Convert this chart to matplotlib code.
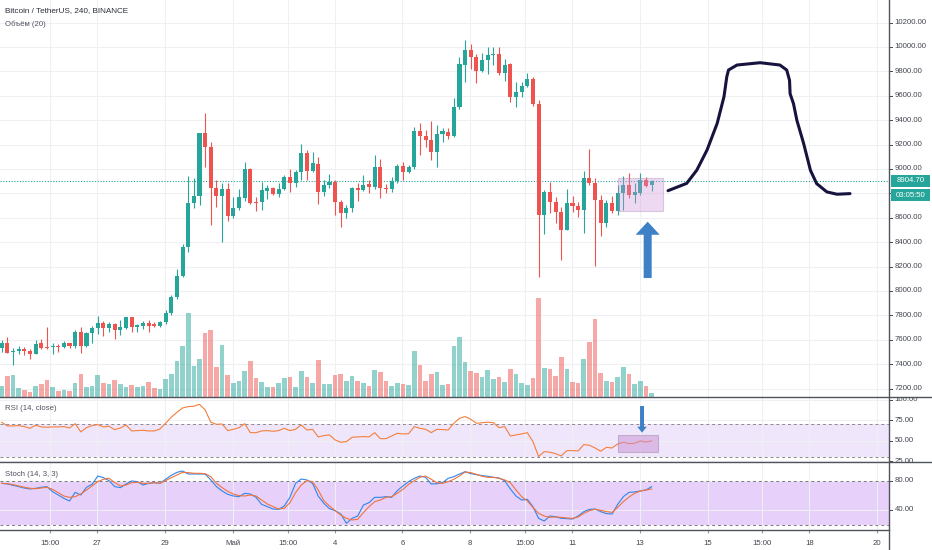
import numpy as np
import matplotlib.pyplot as plt
from matplotlib.patches import Rectangle, FancyArrow
from matplotlib.lines import Line2D

plt.rcParams['font.family'] = ['Liberation Sans', 'DejaVu Sans']

# BTC/USDT 4h candles (24 Apr - 13 May 2020)
opens = [7530, 7577, 7498, 7508, 7525, 7511, 7484, 7571, 7544, 7538,
         7552, 7544, 7571, 7552, 7661, 7550, 7653, 7694, 7735, 7700,
         7727, 7681, 7700, 7784, 7708, 7713, 7741, 7730, 7716, 7743,
         7817, 7948, 8123, 8363, 8719, 8779, 9292, 9178, 8842, 8779,
         8833, 8615, 8678, 8765, 8997, 8732, 8730, 8822, 8842, 8795,
         8833, 8932, 8883, 8973, 9134, 8986, 9040, 8814, 8869, 8896,
         8727, 8642, 8678, 8842, 8828, 8874, 8850, 9014, 8847, 8839,
         8904, 9025, 8978, 9014, 9311, 9270, 9238, 9139, 9287, 9300,
         9270, 9511, 9852, 9975, 9921, 9806, 9893, 9932, 9940, 9790,
         9858, 9587, 9634, 9680, 9738, 9533, 8623, 8809, 8732, 8650,
         8500, 8724, 8697, 8664, 8923, 8882, 8746, 8560, 8724, 8658,
         8806, 8869, 8787, 8806, 8910, 8869]
highs = [7599, 7620, 7530, 7549, 7544, 7525, 7599, 7607, 7708, 7571,
         7566, 7593, 7577, 7681, 7708, 7667, 7713, 7795, 7754, 7749,
         7735, 7763, 7790, 7790, 7730, 7754, 7763, 7749, 7754, 7845,
         7967, 8178, 8385, 8943, 8924, 9298, 9462, 9224, 8910, 8883,
         8883, 8768, 8833, 9060, 9005, 8773, 8896, 8869, 8855, 8883,
         8951, 8997, 8992, 9202, 9156, 9142, 9096, 8910, 8959, 8910,
         8746, 8705, 8850, 8883, 8951, 8910, 9115, 9079, 8877, 8937,
         9041, 9060, 9033, 9347, 9374, 9320, 9393, 9361, 9333, 9333,
         9579, 9921, 10057, 10025, 9943, 9954, 9997, 9997, 9997, 9899,
         9866, 9716, 9716, 9790, 9757, 9566, 8828, 8896, 8773, 8686,
         8833, 8779, 8732, 8986, 9164, 8923, 8787, 8746, 8779, 8869,
         8942, 8970, 8882, 8970, 8932, 8910]
lows = [7503, 7489, 7394, 7484, 7476, 7440, 7484, 7522, 7522, 7484,
        7503, 7530, 7530, 7530, 7489, 7544, 7577, 7648, 7631, 7667,
        7604, 7640, 7686, 7661, 7667, 7686, 7667, 7708, 7708, 7727,
        7804, 7935, 8118, 8323, 8678, 8705, 9019, 8541, 8691, 8404,
        8577, 8596, 8664, 8740, 8713, 8659, 8664, 8751, 8787, 8768,
        8828, 8814, 8855, 8910, 8910, 8978, 8713, 8779, 8842, 8623,
        8527, 8596, 8650, 8741, 8822, 8806, 8833, 8760, 8801, 8814,
        8888, 8910, 8965, 8997, 9115, 9183, 9074, 9014, 9224, 9243,
        9260, 9489, 9716, 9817, 9702, 9798, 9776, 9852, 9770, 9724,
        9552, 9511, 9593, 9669, 9516, 8118, 8467, 8642, 8555, 8254,
        8500, 8650, 8609, 8478, 8869, 8205, 8451, 8527, 8636, 8623,
        8664, 8759, 8724, 8787, 8850, 8822]
closes = [7577, 7495, 7511, 7528, 7508, 7484, 7566, 7536, 7536, 7552,
          7544, 7574, 7552, 7661, 7550, 7653, 7694, 7735, 7700, 7727,
          7681, 7708, 7784, 7708, 7719, 7735, 7716, 7716, 7743, 7817,
          7954, 8126, 8358, 8719, 8779, 9292, 9178, 8842, 8779, 8833,
          8615, 8678, 8768, 8997, 8719, 8724, 8828, 8842, 8795, 8833,
          8932, 8883, 8978, 9134, 8986, 9046, 8814, 8869, 8896, 8727,
          8642, 8678, 8842, 8828, 8869, 8850, 9014, 8842, 8839, 8904,
          9025, 8978, 9014, 9311, 9270, 9238, 9139, 9287, 9311, 9273,
          9511, 9858, 9975, 9921, 9806, 9893, 9934, 9942, 9790, 9852,
          9587, 9634, 9680, 9738, 9533, 8623, 8809, 8732, 8650, 8500,
          8724, 8697, 8664, 8923, 8882, 8746, 8560, 8724, 8658, 8806,
          8869, 8787, 8814, 8910, 8861, 8904.7]
volumes = [11.3, 21.3, 22.3, 9, 7.3, 5, 10.7, 13.3, 17.3, 10,
           6.3, 7, 6.3, 14.3, 23.3, 10.3, 11, 22.3, 14.3, 13.3,
           17.3, 12.7, 10.3, 12.3, 10.3, 11.3, 15, 9, 8.3, 18.3,
           23.3, 35.7, 51.3, 84, 31, 38.3, 63.7, 67.3, 29.7, 52,
           22.3, 13.7, 15.7, 26.3, 36.3, 19.3, 14.7, 9.7, 9.7, 13.7,
           19, 20.3, 10.3, 26.3, 19.7, 14.3, 36.7, 13, 13, 22.3,
           23.3, 16.3, 21.3, 16.3, 14, 10.7, 27, 25, 16.3, 10.7,
           14, 13, 12.3, 46, 32.3, 15.7, 23, 25, 12, 13.3,
           51.3, 60, 35.3, 26.3, 24.3, 19.7, 27, 18.3, 20, 15,
           27.7, 23, 14, 12.3, 19, 99.3, 29, 27.7, 21.3, 39.7,
           28.3, 15.3, 14, 38.3, 55.3, 78, 23.7, 15.7, 15, 20.3,
           30, 23, 13.3, 15.7, 10.7, 4]
rsi = [72.5, 68, 68, 68.4, 67.2, 65.1, 68.8, 66.8, 66.4, 66.8,
       66.8, 67.2, 65.5, 70.8, 60.7, 66, 68.4, 69.6, 66.8, 67.6,
       63.5, 65.5, 69.2, 61.9, 62.3, 62.7, 61.9, 61.9, 64.3, 71.2,
       78.6, 84.6, 89.9, 91.6, 92, 94.4, 87.5, 72.5, 70, 70.4,
       62.3, 63.9, 65.9, 70.8, 59.8, 59.8, 61.9, 62.3, 61.5, 62.3,
       65.1, 62.3, 63.9, 69.2, 63.1, 63.9, 54.6, 56.2, 57, 50.9,
       48.1, 48.9, 54.2, 54.6, 55, 54.6, 59.8, 52.5, 52.5, 55.8,
       59, 58.2, 58.6, 67.2, 65.1, 63.9, 59.8, 63.9, 63.5, 63.1,
       71.2, 77.3, 79.4, 76.1, 71.2, 72, 72.5, 72, 65.9, 67.2,
       55.8, 57, 58.2, 59.8, 48.9, 30.6, 36.7, 35.9, 34.2, 31.4,
       37.9, 37.9, 37.5, 45.2, 44.4, 41.1, 37.1, 41.9, 41.1, 46,
       48.1, 46.4, 46.8, 49.7, 48.5, 49.7]
stoch_k = [76.4, 75.5, 73.7, 71.9, 70.0, 68.7, 69.6, 71.0, 71.9, 65.0,
           60.5, 55.9, 52.3, 64.1, 60.5, 71.0, 75.0, 86.4, 84.1, 80.0,
           71.9, 70.5, 75.5, 79.6, 78.7, 74.1, 76.4, 77.3, 76.4, 81.9,
           87.3, 91.4, 93.2, 89.1, 89.1, 89.1, 89.1, 81.0, 71.9, 65.9,
           61.4, 59.1, 58.2, 62.8, 61.8, 57.3, 47.7, 44.6, 41.4, 40.9,
           45.5, 57.3, 76.4, 82.3, 81.0, 76.4, 59.1, 49.1, 41.8, 39.1,
           34.5, 21.8, 28.6, 31.8, 46.8, 50.0, 57.3, 57.3, 58.2, 57.3,
           66.4, 72.8, 78.7, 83.2, 86.4, 84.6, 75.5, 75.9, 77.3, 83.2,
           85.5, 89.1, 92.3, 89.6, 88.2, 86.9, 86.0, 84.6, 83.7, 80.0,
           68.7, 59.1, 53.6, 54.6, 44.6, 28.6, 25.0, 31.8, 30.9, 28.6,
           28.2, 27.7, 31.8, 37.7, 40.9, 41.4, 37.7, 35.0, 34.5, 47.7,
           58.2, 64.1, 64.6, 65.9, 67.3, 71.9]
stoch_d = [76.4, 76.0, 74.6, 72.8, 71.0, 69.6, 69.1, 70.0, 71.0, 68.2,
           63.7, 59.1, 57.3, 58.2, 61.8, 67.3, 72.8, 78.7, 81.9, 83.2,
           77.3, 72.8, 74.1, 77.3, 77.8, 76.4, 76.4, 77.3, 76.4, 80.0,
           84.1, 87.8, 91.4, 91.0, 90.1, 90.1, 89.6, 85.5, 76.4, 70.5,
           65.5, 61.8, 59.6, 59.1, 60.5, 59.1, 53.6, 48.2, 44.6, 41.4,
           42.3, 50.0, 63.7, 74.1, 80.0, 78.7, 67.3, 52.7, 45.5, 39.1,
           33.2, 28.6, 26.4, 27.3, 36.4, 44.6, 51.4, 53.6, 57.3, 58.2,
           62.8, 68.2, 75.0, 80.0, 84.6, 86.4, 81.9, 77.3, 76.4, 78.7,
           81.9, 86.4, 91.9, 91.0, 88.7, 86.0, 84.6, 84.6, 83.2, 81.0,
           77.3, 67.3, 58.2, 52.3, 43.6, 35.4, 31.8, 30.0, 30.5, 30.0,
           29.1, 28.6, 30.5, 35.4, 39.1, 40.9, 39.6, 37.7, 36.8, 43.6,
           51.4, 57.7, 62.8, 65.9, 67.3, 68.7]

tick_pos = [8.6, 16.9, 28.9, 40.9, 50.6, 58.9, 70.9, 82.9, 92.6, 100.9,
            112.9, 124.9, 134.6, 142.9, 154.9]
tick_labels = ["15:00", "27", "29", "Май", "15:00", "4", "6", "8", "15:00", "11",
               "13", "15", "15:00", "18", "20"]
price_ticks = list(range(7200, 10201, 200))
rsi_ticks = [25, 50, 75, 100]
stoch_ticks = [40, 80]
last_price = 8904.70
countdown = "03:05:50"

# hand drawn forecast (candle index, price)
curve_x = [117.9, 121.2, 123.0, 124.8, 126.6, 127.8, 128.3, 128.6, 130.1, 134.2, 137.7,
           138.9, 139.4, 139.5, 140.1, 140.7, 141.9, 143.1, 144.2, 146.0, 147.8, 150.1]
curve_y = [8822, 8882, 8991, 9155, 9374, 9592, 9756, 9811, 9852, 9871, 9852,
           9811, 9727, 9617, 9535, 9399, 9208, 8989, 8880, 8812, 8793, 8798]
# highlighted boxes and arrows
box_x = (109.1, 117.0)
box_price = (8656, 8929)
arrow_price = (114.3, 8106, 8568)
box_rsi = (109.1, 116.2, 36.3, 57.0)
arrow_rsi = (113.3, 92.3, 59.8)

UP, DOWN = '#26a69a', '#ef5350'
GRID = '#eef0f4'
TXT = '#434651'
SEP = '#50535e'
FS = 5.6

W, H = 932.0, 550.0
AX = 889.0


def rect(top, bottom, left=0.0, right=AX):
    return [left / W, 1 - bottom / H, (right - left) / W, (bottom - top) / H]


fig = plt.figure(figsize=(9.32, 5.5), dpi=100)
ax = fig.add_axes(rect(0, 397))
ax_rsi = fig.add_axes(rect(397, 462))
ax_st = fig.add_axes(rect(462, 530))
sc_p = fig.add_axes(rect(0, 397, AX, W))
sc_r = fig.add_axes(rect(397, 462, AX, W))
sc_s = fig.add_axes(rect(462, 530, AX, W))

o = np.array(opens, float)
c = np.array(closes, float)
idx = np.arange(len(c))
col = np.where(c >= o, UP, DOWN)

xlim = (-0.3, 157.0)
ylims = [(7131, 10385), (24.0, 103.3), (12.7, 105.5)]
for a, yl, yt in [(ax, ylims[0], price_ticks), (ax_rsi, ylims[1], rsi_ticks),
                  (ax_st, ylims[2], stoch_ticks)]:
    a.set_xlim(*xlim)
    a.set_ylim(*yl)
    a.set_xticks(tick_pos)
    a.set_yticks(yt)
    a.grid(True, color=GRID, lw=0.8, zorder=0)
    a.set_axisbelow(True)
    a.tick_params(length=0, labelleft=False, labelbottom=False)
    for s in a.spines.values():
        s.set_visible(False)

# volume overlay at the bottom of the price pane
ax.bar(idx, np.array(volumes) / 397.0, width=0.82, color=col, alpha=0.5,
       linewidth=0, transform=ax.get_xaxis_transform(), zorder=1)

# candles
ax.vlines(idx, lows, highs, colors=col, lw=0.8, zorder=3)
ax.bar(idx, np.maximum(np.abs(c - o), 4), bottom=np.minimum(o, c), width=0.72,
       color=col, linewidth=0, zorder=4)
ax.axhline(last_price, color=UP, lw=0.8, ls=(0, (1, 1.5)), zorder=2)

ax.add_patch(Rectangle((box_x[0], box_price[0]), box_x[1] - box_x[0],
                       box_price[1] - box_price[0], facecolor='#ce93d8', alpha=0.35,
                       edgecolor='#9d7fae', lw=0.8, zorder=5))
ax.add_patch(FancyArrow(arrow_price[0], arrow_price[1], 0, arrow_price[2] - arrow_price[1],
                        width=1.42, head_width=4.25, head_length=107,
                        length_includes_head=True, color='#3d80c6', lw=0, zorder=6))
ax.plot(curve_x, curve_y, color='#17133f', lw=2.2, solid_capstyle='round',
        solid_joinstyle='round', zorder=6)

# RSI pane
ax_rsi.axhspan(30, 70, color='#f0e6fb', zorder=0, lw=0)
for lvl in (30, 70):
    ax_rsi.axhline(lvl, color='#8a8a8a', lw=0.7, ls=(0, (3, 3)), zorder=1)
ax_rsi.plot(idx, rsi, color='#f57f3b', lw=0.8, zorder=3)
ax_rsi.add_patch(Rectangle((box_rsi[0], box_rsi[2]), box_rsi[1] - box_rsi[0],
                           box_rsi[3] - box_rsi[2], facecolor='#c78fd6', alpha=0.5,
                           edgecolor='#9d8aa6', lw=0.8, zorder=4))
ax_rsi.add_patch(FancyArrow(arrow_rsi[0], arrow_rsi[1], 0, arrow_rsi[2] - arrow_rsi[1],
                            width=0.7, head_width=1.7, head_length=7.3,
                            length_includes_head=True, color='#3d80c6', lw=0, zorder=5))

# Stoch pane
ax_st.axhspan(20, 80, color='#e7d0f9', zorder=0, lw=0)
for lvl in (20, 80):
    ax_st.axhline(lvl, color='#7a7a7a', lw=0.7, ls=(0, (3, 3)), zorder=1)
ax_st.plot(idx, stoch_k, color='#2f86eb', lw=0.8, zorder=3)
ax_st.plot(idx, stoch_d, color='#f0743a', lw=0.8, zorder=3)
ax_st.set_xticks(tick_pos, tick_labels)
ax_st.tick_params(axis='x', labelbottom=True, length=2, color='#9598a1',
                  pad=5, labelsize=FS, labelcolor=TXT)

# right-hand price scales
box_h = 98
hidden = (last_price - 119 - box_h / 2 - 30, last_price + box_h / 2)
for sc, yl, ticks in [(sc_p, ylims[0], price_ticks), (sc_r, ylims[1], rsi_ticks),
                      (sc_s, ylims[2], stoch_ticks)]:
    sc.set_xlim(0, 1)
    sc.set_ylim(*yl)
    sc.axis('off')
    for t in ticks:
        sc.plot([0, 0.07], [t, t], color=TXT, lw=0.7, clip_on=True)
        if sc is sc_p and hidden[0] < t < hidden[1]:
            continue  # covered by the last-price labels
        sc.text(0.13, t, f'{t:.2f}', ha='left', va='center', fontsize=FS,
                color=TXT, clip_on=True)

sc_p.add_patch(Rectangle((0.04, last_price - box_h / 2), 0.92, box_h,
                         facecolor=UP, lw=0, zorder=5))
sc_p.add_patch(Rectangle((0.04, last_price - 119 - box_h / 2), 0.92, box_h,
                         facecolor=UP, lw=0, zorder=5))
sc_p.text(0.5, last_price, f'{last_price:.2f}', ha='center', va='center',
          fontsize=FS, color='white', zorder=6)
sc_p.text(0.5, last_price - 119, countdown, ha='center', va='center',
          fontsize=FS, color='white', zorder=6)

# pane separators and price axis line
for y, x1 in [(397, W), (462, W), (530, AX)]:
    fig.add_artist(Line2D([0, x1 / W], [1 - y / H] * 2, transform=fig.transFigure,
                          color=SEP, lw=1))
fig.add_artist(Line2D([AX / W] * 2, [0, 1], transform=fig.transFigure, color=SEP, lw=1))

fig.text(5 / W, 1 - 11 / H, 'Bitcoin / TetherUS, 240, BINANCE', fontsize=5.9,
         color='#2a2e39', va='center')
fig.text(5 / W, 1 - 24 / H, 'Объём (20)', fontsize=FS, color='#4f5360', va='center')
fig.text(5 / W, 1 - 409 / H, 'RSI (14, close)', fontsize=FS, color='#4f5360', va='center')
fig.text(5 / W, 1 - 475 / H, 'Stoch (14, 3, 3)', fontsize=FS, color='#4f5360', va='center')

fig.savefig('out.png', dpi=100)
